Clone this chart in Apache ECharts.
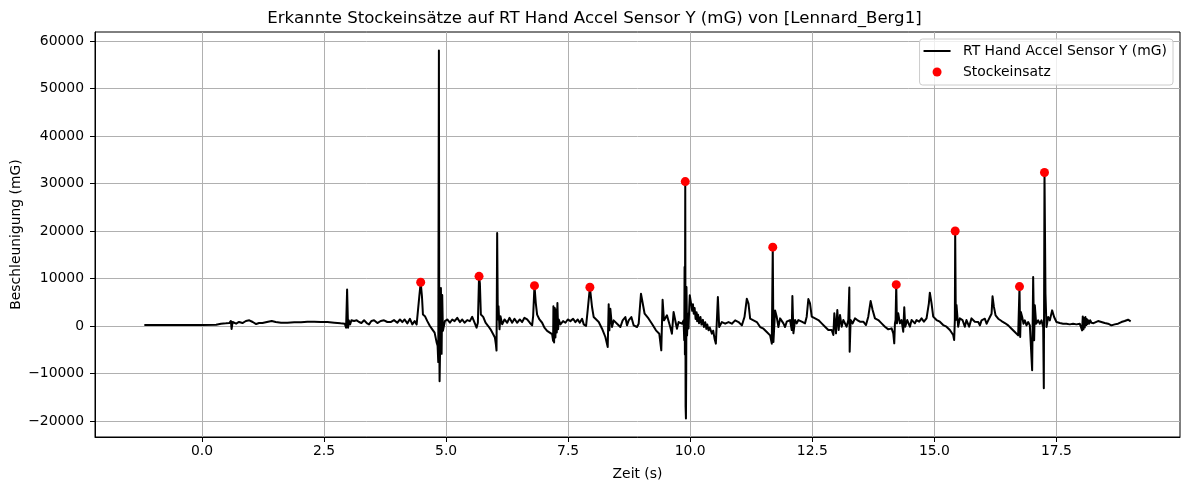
<!DOCTYPE html>
<html>
<head>
<meta charset="utf-8">
<script src="https://cdn.jsdelivr.net/npm/echarts@6/dist/echarts.min.js"></script>
<style>
html,body{margin:0;padding:0;background:#fff;}
#chart{width:1189px;height:490px;}
</style>
</head>
<body>
<div id="chart"></div>
<script>
// Time stamps (s) of the acceleration trace
var timeS = [
-1.18,-0.57,0.01,0.29,0.39,0.49,0.56,0.593,0.607,0.628,0.70,0.76,0.83,0.90,0.97,1.04,1.11,1.17,1.24,1.33,1.43,1.51,1.62,1.75,1.89,2.03,2.16,2.30,2.43,2.57,2.71,2.84,2.925,2.952,2.973,2.993,3.007,3.034,3.061,3.116,3.170,3.218,3.266,3.320,3.375,3.422,3.470,3.525,3.593,3.661,3.729,3.797,
3.865,3.933,4.001,4.056,4.104,4.151,4.206,4.260,4.308,4.356,4.397,4.424,4.451,4.480,4.506,4.526,4.567,4.615,4.669,4.717,4.765,4.806,4.826,4.840,4.853,4.860,4.867,4.881,4.894,4.908,4.921,4.935,4.956,4.976,5.024,5.078,5.126,5.174,5.228,5.283,5.331,5.378,5.433,5.487,5.535,5.583,5.624,5.651,5.675,5.692,5.712,5.760,5.808,5.862,5.910,5.965,5.999,6.019,6.033,6.046,6.060,6.074,6.094,6.114,6.149,6.196,6.251,6.298,6.353,6.401,6.455,6.510,6.557,6.605,6.660,6.714,6.762,6.783,6.810,6.837,6.864,6.912,6.967,7.014,7.069,7.123,7.171,7.192,7.198,7.212,7.226,7.239,7.253,7.267,7.280,7.294,7.308,7.342,7.396,7.444,7.492,7.546,7.601,7.648,7.696,7.737,7.785,7.819,7.867,7.901,7.945,
7.989,8.023,8.126,8.194,8.262,8.310,8.330,8.344,8.364,8.398,8.432,8.501,8.535,8.569,8.616,8.671,8.705,8.739,8.794,8.841,8.910,8.944,8.991,9.025,9.066,9.148,9.216,9.298,9.366,9.407,9.434,9.462,9.523,9.557,9.591,9.625,9.659,9.694,9.728,9.762,9.830,9.864,9.877,9.884,9.891,9.898,9.905,9.912,9.918,9.923,9.935,9.950,9.965,9.980,9.991,10.018,10.040,10.055,10.072,10.090,10.110,10.130,10.141,10.160,10.180,10.209,10.230,10.260,10.280,10.307,10.330,10.350,10.375,10.400,10.443,10.470,10.498,10.525,10.566,10.593,10.648,10.716,10.784,10.852,10.920,10.989,11.057,11.111,11.159,11.193,11.227,11.295,11.364,11.432,11.500,11.568,11.636,11.670,11.690,11.704,11.738,11.772,11.806,
11.840,11.908,11.942,11.976,12.010,12.044,12.079,12.092,12.113,12.147,12.181,12.215,12.249,12.283,12.317,12.351,12.385,12.419,12.453,12.488,12.556,12.624,12.692,12.760,12.828,12.897,12.931,12.951,12.985,13.012,13.040,13.067,13.101,13.135,13.169,13.203,13.237,13.258,13.265,13.285,13.326,13.374,13.421,13.476,13.544,13.599,13.646,13.694,13.735,13.783,13.851,13.919,13.987,14.056,14.124,14.158,14.178,14.192,14.205,14.219,14.233,14.260,14.294,14.328,14.362,14.383,14.403,14.444,14.499,14.533,14.567,14.601,14.635,14.689,14.737,14.785,14.839,14.887,14.907,14.942,14.976,15.044,15.112,15.180,15.248,15.317,15.385,15.405,15.419,15.426,15.439,15.453,15.487,15.521,15.576,15.623,15.657,15.712,15.760,15.794,15.828,
15.898,15.932,15.966,16.034,16.069,16.103,16.137,16.171,16.191,16.219,16.253,16.307,16.375,16.443,16.512,16.580,16.648,16.716,16.737,16.743,16.757,16.771,16.798,16.825,16.852,16.887,16.921,16.955,16.989,17.002,17.023,17.043,17.057,17.084,17.125,17.159,17.193,17.228,17.241,17.255,17.275,17.296,17.330,17.364,17.411,17.452,17.500,17.568,17.636,17.705,17.773,17.841,17.909,17.977,18.025,18.039,18.052,18.066,18.080,18.093,18.110,18.120,18.135,18.148,18.170,18.190,18.216,18.240,18.260,18.284,18.352,18.420,18.488,18.557,18.625,18.693,18.761,18.829,18.897,18.966,19.020
];
// Acceleration values (mG) matching timeS
var accelMG = [
200,210,210,280,490,560,630,1060,-630,850,490,850,630,1060,1200,850,420,630,630,850,1060,850,700,700,780,780,920,920,850,850,700,560,490,-350,7680,-350,1200,350,1200,1060,1200,850,630,1200,630,350,1060,1200,630,1060,1200,850,
830,1240,690,1380,830,1380,550,1520,350,1030,350,690,6200,9200,6200,2410,2070,1030,0,-690,-1380,-3450,-4140,-7590,58000,-2000,-11600,-2760,8000,-5860,6550,-1030,-1380,1030,1380,690,1380,1030,1720,830,1380,690,1240,1030,1930,690,-350,690,10450,8970,2410,1930,690,0,-690,-1720,-2410,-3790,-5170,19580,1380,4140,-690,2070,350,1380,690,1720,690,1520,690,1380,830,1720,1380,690,140,2070,8500,4830,2410,1380,690,-350,-1030,-1380,-1720,-3100,4140,-3450,3790,-2410,3450,-1380,4830,-690,1380,350,1030,690,1380,1030,1520,830,1380,690,1520,350,0,3450,8150,
4000,1890,840,-560,-2310,-4420,4560,-910,3640,-210,1190,490,840,-210,1190,1890,140,1190,1890,140,-210,490,6800,6450,2590,1540,490,-910,-1610,-5120,5540,1190,2240,1890,-210,-1610,2940,2590,-560,840,490,1190,-3000,12400,-6000,30400,-17000,-19480,-9000,8200,-2000,2600,-500,4000,6450,6100,3200,4600,2600,3800,1500,2900,1000,2400,600,1900,300,1300,-200,800,-600,300,-900,-300,-1610,-1000,-2660,-3710,6100,-210,840,490,840,490,1190,840,140,1890,5750,4700,1540,1190,840,-210,-560,-1260,-1960,-3710,16600,-3360,3290,1890,-210,
1610,560,-210,910,560,1260,-840,6320,-1540,1260,560,1260,1610,910,1260,560,1970,5690,4770,1970,1610,1260,560,-140,-840,-840,-1900,2670,-1540,3370,-840,2320,-140,1260,910,-140,1260,8090,-5400,1260,560,1610,1260,910,910,210,1970,5260,3370,1610,1260,560,-140,-700,-490,-1540,-3650,560,1260,8700,560,2670,560,1260,-1190,3930,-140,1260,-140,1260,1610,560,1260,910,1610,910,1610,4770,7020,4770,1970,1260,910,210,-140,-840,-1900,-2950,1260,20000,1260,4420,-140,1610,1260,-140,1260,-140,1610,1970,910,
840,140,1190,1540,490,1190,1890,2590,6240,4020,2240,1540,1050,630,140,-560,-1260,-1960,-2310,8300,-2310,2940,1890,490,1190,140,840,140,490,-9320,10300,-3000,4350,490,1190,490,1190,-210,-13100,32300,6800,-210,1890,1190,3290,1890,840,630,490,490,350,490,350,490,-910,2030,-700,1700,-300,1900,200,1500,400,1200,500,1200,700,1100,600,1000,1050,840,630,490,140,350,490,840,1050,1330,980
];
// Detected pole plants (Stockeinsätze)
var peakTimeS = [4.480,5.675,6.810,7.945,9.898,11.690,14.219,15.426,16.743,17.255];
var peakAccelMG = [9200,10450,8500,8150,30400,16600,8700,20000,8300,32300];
// Tick values
var xTicks = [0,2.5,5,7.5,10,12.5,15,17.5];
var yTicks = [-20000,-10000,0,10000,20000,30000,40000,50000,60000];

var lineData = timeS.map(function(t,i){return [t, accelMG[i]];});
var peakData = peakTimeS.map(function(t,i){return [t, peakAccelMG[i]];});

var tMin = Math.min.apply(null,timeS), tMax = Math.max.apply(null,timeS);
var vMin = Math.min.apply(null,accelMG), vMax = Math.max.apply(null,accelMG);
var xPad = (tMax - tMin)*0.05, yPad = (vMax - vMin)*0.05;

var FONT = 'DejaVu Sans';
var FS = 13.9;
var lineIcon = 'path://M0,0h0.01v0.01h-0.01z M0,4h30v2h-30z M0,10h0.01v-0.01h-0.01z';
var chart = echarts.init(document.getElementById('chart'), null, {renderer:'canvas'});
chart.setOption({
  animation:false,
  backgroundColor:'#ffffff',
  textStyle:{fontFamily:FONT},
  title:{
    text:'Erkannte Stockeinsätze auf RT Hand Accel Sensor Y (mG) von [Lennard_Berg1]',
    left:'center', top:10, padding:0, itemGap:0,
    textStyle:{fontFamily:FONT, fontSize:16.6, fontWeight:'normal', color:'#000'}
  },
  grid:{left:95, right:9, top:32, bottom:53, show:true, borderColor:'#000', borderWidth:1,
    backgroundColor:'transparent', containLabel:false, outerBoundsMode:'none'},
  legend:{
    right:16, top:39, orient:'vertical',
    itemWidth:30, itemHeight:9, itemGap:7,
    padding:[5,6,6,4],
    backgroundColor:'rgba(255,255,255,0.8)', borderColor:'#cccccc', borderWidth:1, borderRadius:3,
    textStyle:{fontFamily:FONT, fontSize:FS, color:'#000', lineHeight:14, padding:[0,0,0,6]},
    data:[{name:'RT Hand Accel Sensor Y (mG)', icon:lineIcon, itemStyle:{color:'#000'}},{name:'Stockeinsatz', icon:'circle'}]
  },
  xAxis:{
    type:'value', min:tMin - xPad, max:tMax + xPad,
    name:'Zeit (s)', nameLocation:'middle', nameGap:30, nameMoveOverlap:false,
    nameTextStyle:{fontFamily:FONT, fontSize:FS, color:'#000'},
    axisLine:{show:true, onZero:false, lineStyle:{color:'#000', width:1}},
    axisTick:{show:true, length:5, lineStyle:{color:'#000', width:1}, customValues:xTicks},
    axisLabel:{fontFamily:FONT, fontSize:FS, color:'#000', margin:7, customValues:xTicks,
      formatter:function(v){return v.toFixed(1);}},
    splitLine:{show:true, lineStyle:{color:'#b0b0b0', width:1}}
  },
  yAxis:{
    type:'value', min:vMin - yPad, max:vMax + yPad,
    name:'Beschleunigung (mG)', nameLocation:'middle', nameGap:72, nameMoveOverlap:false,
    nameTextStyle:{fontFamily:FONT, fontSize:FS, color:'#000'},
    axisLine:{show:true, onZero:false, lineStyle:{color:'#000', width:1}},
    axisTick:{show:true, length:5, lineStyle:{color:'#000', width:1}, customValues:yTicks},
    axisLabel:{fontFamily:FONT, fontSize:FS, color:'#000', margin:11, customValues:yTicks,
      formatter:function(v){return v < 0 ? '\u2212' + Math.abs(v) : String(v);}},
    splitLine:{show:true, lineStyle:{color:'#b0b0b0', width:1}}
  },
  series:[
    {name:'RT Hand Accel Sensor Y (mG)', type:'line', data:lineData, showSymbol:false, symbol:'none',
      sampling:null, lineStyle:{color:'#000', width:2, join:'round'}, itemStyle:{color:'#000'}, z:2},
    {name:'Stockeinsatz', type:'scatter', data:peakData, symbol:'circle', symbolSize:9,
      itemStyle:{color:'#ff0000', opacity:1}, z:3}
  ]
});
</script>
</body>
</html>
